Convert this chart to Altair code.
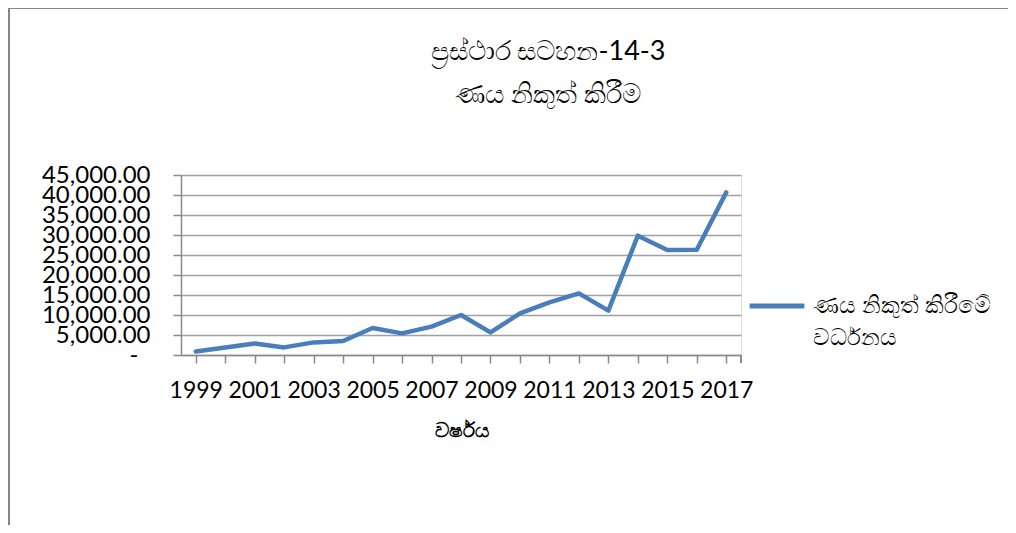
import altair as alt
import pandas as pd

# ---- data ----
years = [str(y) for y in range(1999, 2018)]
values = [900, 1900, 2900, 1900, 3150, 3500, 6750, 5400, 7080, 10000,
          5650, 10400, 13150, 15400, 11080, 29830, 26250, 26300, 40650]
series_name = "ණය නිකුත් කිරීමේ\nවර්ධනය"
title_lines = ["ප්‍රස්ථාර සටහන-14-3", "ණය නිකුත් කිරීම"]
x_title = "වර්ෂය"
y_ticks = [0, 5000, 10000, 15000, 20000, 25000, 30000, 35000, 40000, 45000]

df = pd.DataFrame({"year": years, "value": values, "series": [series_name] * len(years)})

W, H = 560, 180
GRAY = "#8a8a8a"
FONT = "Lato"

line = alt.Chart(df).mark_line(strokeWidth=4.5, strokeCap="round", strokeJoin="round").encode(
    x=alt.X("year:O", sort=years, scale=alt.Scale(paddingInner=0, paddingOuter=0),
            axis=alt.Axis(title=x_title, bandPosition=0,
                          labelExpr="toNumber(datum.value) % 2 == 1 ? datum.label : ''",
                          labelAngle=0, labelFontSize=23, labelFont=FONT, labelColor="#000",
                          labelPadding=16, labelOverlap=False, tickSize=8, tickColor=GRAY,
                          tickWidth=1.5, domainColor=GRAY, domainWidth=1.5, grid=False,
                          titleFontSize=20, titleFontWeight="bold", titlePadding=18,
                          titleColor="#000")),
    y=alt.Y("value:Q", scale=alt.Scale(domain=[0, 45000], nice=False),
            axis=alt.Axis(title=None, values=y_ticks,
                          labelExpr="datum.value == 0 ? '-' : format(datum.value, ',.2f')",
                          labelFontSize=24, labelFont=FONT, labelColor="#000",
                          labelPadding={"condition": {"test": "datum.value == 0", "value": 35},
                                        "value": 23},
                          labelOverlap=False, tickSize=8, tickColor=GRAY, tickWidth=1.5,
                          domainColor=GRAY, domainWidth=1.5,
                          gridColor="#a0a0a0", gridWidth=1.5)),
    color=alt.Color("series:N", scale=alt.Scale(range=["#4a7ebb"]),
                    legend=alt.Legend(title=None, orient="none", legendX=566, legendY=101,
                                      symbolType="stroke", symbolSize=3000, symbolStrokeWidth=5,
                                      labelExpr="split(datum.label, '\\n')",
                                      labelFontSize=23, labelColor="#000", labelLimit=400,
                                      labelOffset=6, padding=0)),
)

end_tick = alt.Chart(df).mark_rule(color=GRAY, strokeWidth=1.5).encode(
    x=alt.value(W), y=alt.value(H), y2=alt.value(H + 8))

border_top = alt.Chart(df).mark_rule(color="#868686", strokeWidth=2).encode(
    x=alt.value(-172), x2=alt.value(W + 300), y=alt.value(-167))
border_left = alt.Chart(df).mark_rule(color="#868686", strokeWidth=2).encode(
    x=alt.value(-172), y=alt.value(-167), y2=alt.value(H + 200))

chart = alt.layer(line, end_tick, border_top, border_left).properties(
    width=W, height=H,
    title=alt.TitleParams(text=title_lines, anchor="middle", frame="group", dx=87,
                          fontSize=27, fontWeight="normal", lineHeight=43, offset=-102,
                          color="#000"),
    autosize=alt.AutoSizeParams(type="none"),
    padding={"left": 173, "top": 167, "right": 267, "bottom": 170},
).configure_view(stroke=None).configure(
    font=FONT, style={"guide-label": {"lineHeight": 32}})

chart.save("out.html", embed_options={"renderer": "svg", "actions": False})
